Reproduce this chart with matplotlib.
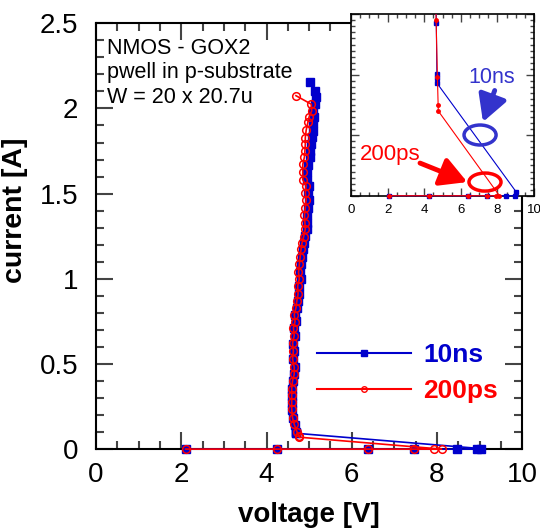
import numpy as np
import matplotlib
matplotlib.use('Agg')
import matplotlib.pyplot as plt
from matplotlib.patches import Ellipse
from matplotlib.lines import Line2D
from matplotlib.transforms import Bbox, TransformedBbox
from matplotlib.ticker import MultipleLocator

plt.rcParams['font.family'] = ['Liberation Sans', 'DejaVu Sans']

# 10ns TLP pulse (blue squares)
v_10ns = [2.10, 4.25, 6.37, 7.45, 8.48, 8.94, 9.03,
          4.70, 4.70, 4.69, 4.66, 4.63, 4.60, 4.59, 4.60, 4.60, 4.62, 4.64, 4.66,
          4.63, 4.64, 4.63, 4.66, 4.65, 4.68, 4.67, 4.71, 4.73, 4.76,
          4.76, 4.80, 4.79, 4.81, 4.83, 4.85, 4.87, 4.90, 4.94, 4.94,
          4.94, 4.97, 4.99, 4.98, 5.00, 4.95, 4.96, 4.97, 5.01, 5.03,
          5.05, 5.06, 5.08, 5.10, 5.12, 5.10, 5.13, 5.17, 5.13, 5.03]
i_10ns = [0, 0, 0, 0, 0, 0, 0.003,
          0.093, 0.097, 0.101, 0.143, 0.185, 0.230, 0.270, 0.310, 0.355, 0.400, 0.440, 0.480,
          0.530, 0.575, 0.620, 0.665, 0.710, 0.750, 0.790, 0.830, 0.870, 0.910,
          0.955, 1.000, 1.040, 1.085, 1.130, 1.175, 1.210, 1.250, 1.290, 1.330,
          1.375, 1.415, 1.465, 1.505, 1.545, 1.580, 1.625, 1.670, 1.715, 1.750,
          1.790, 1.830, 1.870, 1.915, 1.950, 1.985, 2.025, 2.065, 2.104, 2.153]

# 200ps pulse (red circles)
v_200ps = [2.10, 4.25, 6.37, 7.45, 7.92, 8.11,
           4.77, 4.76, 4.72, 4.65, 4.61, 4.59, 4.59, 4.59, 4.59, 4.61, 4.65, 4.65,
           4.61, 4.63, 4.61, 4.65, 4.63, 4.67, 4.65, 4.69, 4.71, 4.74,
           4.73, 4.77, 4.75, 4.77, 4.79, 4.81, 4.83, 4.87, 4.91, 4.90,
           4.89, 4.91, 4.93, 4.91, 4.93, 4.85, 4.85, 4.85, 4.89, 4.90,
           4.91, 4.91, 4.93, 4.97, 5.00, 5.06, 5.05, 4.69]
i_200ps = [0, 0, 0, 0, 0, 0,
           0.070, 0.075, 0.098, 0.145, 0.184, 0.234, 0.276, 0.316, 0.355, 0.400, 0.440, 0.480,
           0.529, 0.575, 0.622, 0.666, 0.712, 0.749, 0.790, 0.829, 0.869, 0.910,
           0.957, 0.998, 1.037, 1.084, 1.130, 1.175, 1.208, 1.247, 1.290, 1.330,
           1.376, 1.416, 1.465, 1.504, 1.547, 1.582, 1.625, 1.671, 1.716, 1.752,
           1.790, 1.829, 1.872, 1.918, 1.951, 1.986, 2.025, 2.075]

BLUE = '#0000cc'
RED = '#ff0000'

fig = plt.figure(figsize=(5.4, 5.29), dpi=100)
ax = fig.add_axes([0.178, 0.151, 0.789, 0.805])

ax.plot(v_10ns, i_10ns, '-', color=BLUE, lw=1.2, marker='s', ms=5.5,
        mfc=BLUE, mec=BLUE, zorder=3, clip_on=False)
ax.plot(v_200ps, i_200ps, '-', color=RED, lw=1.2, marker='o', ms=5.5,
        mfc='none', mec=RED, mew=1.1, zorder=4, clip_on=False)

ax.set_xlim(0, 10)
ax.set_ylim(0, 2.5)
ax.xaxis.set_major_locator(MultipleLocator(2))
ax.xaxis.set_minor_locator(MultipleLocator(0.5))
ax.yaxis.set_major_locator(MultipleLocator(0.5))
ax.yaxis.set_minor_locator(MultipleLocator(0.1))
ax.tick_params(which='both', direction='in', top=True, right=True,
               labelsize=20, width=1.5, color='#444444')
ax.tick_params(axis='y', pad=13)
ax.tick_params(axis='x', pad=9)
ax.tick_params(which='major', length=12)
ax.tick_params(which='minor', length=6)
ax.set_yticks([0, 0.5, 1, 1.5, 2, 2.5])
ax.set_yticklabels(['0', '0.5', '1', '1.5', '2', '2.5'])
for s in ax.spines.values():
    s.set_linewidth(1.5)

ax.set_xlabel('voltage [V]', fontsize=20, fontweight='bold', labelpad=10.5)
ax.set_ylabel('current [A]', fontsize=20.5, fontweight='bold')
ax.yaxis.set_label_coords(-0.16, 0.56)

ax.text(0.026, 0.965, 'NMOS - GOX2\npwell in p-substrate\nW = 20 x 20.7u',
        transform=ax.transAxes, ha='left', va='top', fontsize=15.5,
        linespacing=1.2)

handles = [Line2D([], [], color=BLUE, lw=1.5, marker='s', ms=4, mfc=BLUE),
           Line2D([], [], color=RED, lw=1.5, marker='o', ms=4, mfc='none', mew=1)]
leg = ax.legend(handles, ['10ns', '200ps'], loc='center left',
                bbox_to_anchor=(0.519, 0.178), frameon=False, numpoints=1,
                borderpad=0, borderaxespad=0,
                handlelength=3.56, handletextpad=0.45, labelspacing=0.45,
                prop={'size': 19, 'weight': 'bold'})
for t, c in zip(leg.get_texts(), [BLUE, RED]):
    t.set_color(c)

# inset zoomed on the low current region
ins = fig.add_axes([0.65, 0.630, 0.339, 0.343])
l1, = ins.plot(v_10ns, i_10ns, '-', color=BLUE, lw=0.8, marker='s', ms=3,
               mfc=BLUE, mec=BLUE, zorder=3)
l2, = ins.plot(v_200ps, i_200ps, '-', color=RED, lw=0.8, marker='o', ms=2.5,
               mfc=RED, mec=RED, zorder=4)
clipbox = TransformedBbox(Bbox([[0, -0.03], [1, 1]]), ins.transAxes)
l1.set_clip_box(clipbox)
l2.set_clip_box(clipbox)
ins.set_xlim(0, 10)
ins.set_ylim(0, 0.15)
ins.xaxis.set_major_locator(MultipleLocator(2))
ins.xaxis.set_minor_locator(MultipleLocator(0.5))
ins.yaxis.set_major_locator(MultipleLocator(0.05))
ins.yaxis.set_minor_locator(MultipleLocator(0.005))
ins.tick_params(which='both', direction='in', top=True, right=True,
                labelsize=9.5, width=1, color='#444444', pad=6)
ins.tick_params(which='major', length=6)
ins.tick_params(which='minor', length=3)
ins.tick_params(axis='y', labelleft=False)
for s in ins.spines.values():
    s.set_linewidth(1.2)

c10 = '#3333cc'
ins.add_patch(Ellipse((7.05, 0.0502), 1.75, 0.0165, fill=False, ec=c10, lw=2.5, zorder=5))
ins.add_patch(Ellipse((7.32, 0.0113), 1.75, 0.0149, fill=False, ec=RED, lw=2.5, zorder=5))
ins.text(7.69, 0.0974, '10ns', color=c10, fontsize=15.5, ha='center', va='center')
ins.text(2.13, 0.0337, '200ps', color=RED, fontsize=16, ha='center', va='center')
ins.annotate('', xy=(7.21, 0.061), xytext=(7.85, 0.087),
             arrowprops=dict(arrowstyle='-|>,head_length=1.0,head_width=0.55',
                             mutation_scale=16, color=c10, lw=3.5,
                             shrinkA=0, shrinkB=0))
ins.annotate('', xy=(6.35, 0.0113), xytext=(3.77, 0.027),
             arrowprops=dict(arrowstyle='-|>,head_length=1.0,head_width=0.55',
                             mutation_scale=16, color=RED, lw=3.5,
                             shrinkA=0, shrinkB=0))

fig.savefig('out.png', dpi=100)
